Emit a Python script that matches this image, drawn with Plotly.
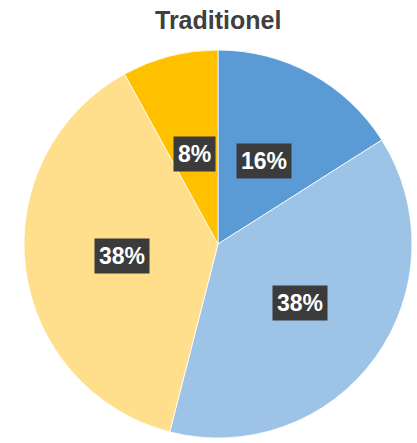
import math
import plotly.graph_objects as go

# Share of each segment, clockwise from 12 o'clock
segments = ["A", "B", "C", "D"]
shares = [16, 38, 38, 8]
labels_txt = ["16%", "38%", "38%", "8%"]
colors = ["#5B9BD5", "#9DC3E6", "#FFDF8C", "#FFC000"]
title_text = "Traditionel"

W, H = 417, 443
cx, cy, R = 218, 244, 194  # pie centre and radius in pixels

fig = go.Figure(go.Pie(
    labels=segments,
    values=shares,
    sort=False,
    direction="clockwise",
    rotation=0,
    marker=dict(colors=colors, line=dict(color="white", width=0.8)),
    textinfo="none",
    hoverinfo="none",
    showlegend=False,
    domain=dict(x=[(cx - R) / W, (cx + R) / W],
                y=[(H - cy - R) / H, (H - cy + R) / H]),
))

# Label boxes placed at each slice's mid-angle
total = sum(shares)
acc = 0
annotations = []
radial = [0.49, 0.52, 0.50, 0.48]
for v, txt, rf in zip(shares, labels_txt, radial):
    mid = (acc + v / 2) / total * 2 * math.pi
    acc += v
    px = cx + rf * R * math.sin(mid)
    py = cy - rf * R * math.cos(mid)
    annotations.append(dict(
        x=px / W, y=1 - py / H, xref="paper", yref="paper",
        text=f"<b>{txt}</b>", showarrow=False,
        font=dict(family="Liberation Sans, Arial, sans-serif", size=23, color="white"),
        bgcolor="#3B3B3B", borderpad=4,
        xanchor="center", yanchor="middle",
    ))

annotations.append(dict(
    x=cx / W, y=1 - 20 / H, xref="paper", yref="paper",
    text=f"<b>{title_text}</b>", showarrow=False,
    font=dict(family="Liberation Sans, Arial, sans-serif", size=25, color="#404040"),
    xanchor="center", yanchor="middle",
))

fig.update_layout(
    width=W, height=H,
    margin=dict(l=0, r=0, t=0, b=0),
    paper_bgcolor="white", plot_bgcolor="white",
    annotations=annotations,
)

fig.write_html("out.html")
